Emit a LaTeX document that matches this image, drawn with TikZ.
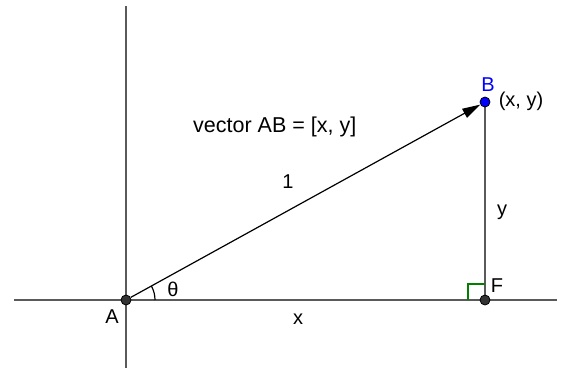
\documentclass[tikz,border=0pt]{standalone}
\usepackage{fontspec}
\setmainfont{Liberation Sans}
\usetikzlibrary{arrows.meta}
\definecolor{axisgray}{HTML}{5A5A5A}
\definecolor{ptgray}{HTML}{333333}
\definecolor{ggblue}{HTML}{0000FF}
\definecolor{gggreen}{HTML}{007F00}
\begin{document}
\begin{tikzpicture}[x=1pt,y=-1pt,
  axis/.style={draw=axisgray,line width=2pt},
  pt/.style={circle,inner sep=0pt,minimum size=10pt,draw=black,line width=0.8pt,fill=ptgray},
  lbl/.style={inner sep=0pt,anchor=base,font=\fontsize{20}{23}\selectfont},
  vec/.style={draw=black,line width=1.2pt,-{Triangle[length=18pt,width=10pt]}}]
\useasboundingbox (0,0) rectangle (564,368);
% axes
\coordinate (xl) at (14,300);
\coordinate (xr) at (557,300);
\coordinate (yt) at (126,6);
\coordinate (yb) at (126,368);
\draw[axis] (xl) -- (xr);
\draw[axis] (yt) -- (yb);
% points
\coordinate (Ac) at (126,300);
\coordinate (Bc) at (485,102);
\coordinate (Fc) at (485,300);
% segment BF
\draw[axis] (Bc) -- (Fc);
% right angle
\draw[gggreen,line width=1.5pt] (468,300) -- (468,284) -- (485,284);
% angle arc
\draw[draw=black,line width=1.2pt] (155,300) arc[start angle=0,end angle=-28.9,radius=29];
% vector
\node[pt] (A) at (Ac) {};
\node[pt] (F) at (Fc) {};
\node[pt,fill=ggblue] (B) at (Bc) {};
\draw[vec] (A) -- (B);
% labels
\node[lbl] (lA) at (112,323) {A};
\node[lbl,text=ggblue] (lB) at (488,91) {B};
\node[lbl] (lF) at (497,292) {F};
\node[lbl] (lxy) at (521,106) {(x, y)};
\node[lbl] (ltheta) at (173,296) {θ};
\node[lbl] (lone) at (288,188) {1};
\node[lbl] (lx) at (298,324) {x};
\node[lbl] (ly) at (502,215) {y};
\node[lbl,anchor=base west,font=\fontsize{21.5}{24}\selectfont] (lvec) at (193,132) {vector AB = [x, y]};
\end{tikzpicture}
\end{document}
